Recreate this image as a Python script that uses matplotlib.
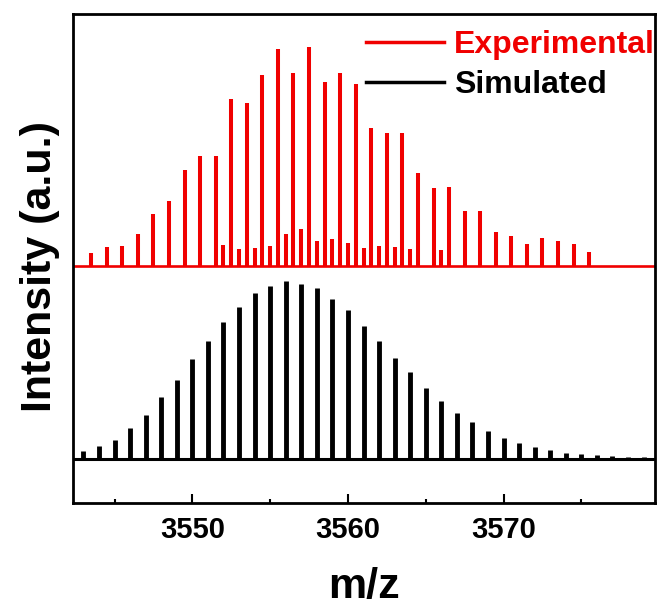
import matplotlib
matplotlib.use("Agg")
import matplotlib.pyplot as plt
import numpy as np

plt.rcParams['font.family'] = ['Liberation Sans', 'DejaVu Sans']
plt.rcParams['font.weight'] = 'bold'

# Simulated isotope pattern (m/z, relative intensity)
sim_mz = np.arange(3543, 3580)
sim_int = [7.7, 12.7, 19.3, 30.7, 44.3, 61.7, 79.3, 100, 118.3, 137.3, 152, 166,
           173.3, 177.7, 175.3, 170.7, 160.3, 149, 132.7, 117.7, 101, 86.7, 71.3,
           58.3, 46, 36.7, 27.7, 21.3, 16, 11.7, 8.7, 6.3, 5, 3.7, 2.7, 2.3, 2]

# Experimental pattern: main peaks
exp_mz = np.arange(3543.5, 3576.0, 1.0)
exp_int = [12.3, 19, 19.7, 31.7, 51.3, 65, 95.7, 110, 109.7, 166.7, 162.3, 190.7,
           216.7, 192.3, 218.3, 183.3, 193, 181.3, 137.3, 132.3, 132.3, 92.3, 77.3,
           78.3, 55, 55, 34, 30, 21.7, 27.3, 24.7, 21.7, 13.3]
# Experimental pattern: minor species
exp2_mz = [3552, 3553, 3554, 3555, 3556, 3557, 3558, 3559, 3560, 3561, 3562, 3563, 3564, 3566]
exp2_int = [20.7, 16.3, 18, 19.7, 31.3, 36.7, 25, 27, 23, 18, 19.7, 18.3, 16.3, 15.7]

exp_offset = 193.3
xticks = [3550, 3560, 3570]
minor_ticks = [3545, 3555, 3565, 3575]

fig = plt.figure(figsize=(6.59, 6.08), dpi=100)
ax = fig.add_axes([72.5 / 659, 1 - 503 / 608, (654.5 - 72.5) / 659, (503 - 14) / 608])

red = '#f00000'
ax.vlines(exp_mz, exp_offset, exp_offset + np.array(exp_int), color=red, lw=2.9)
ax.vlines(exp2_mz, exp_offset, exp_offset + np.array(exp2_int), color=red, lw=2.9)
ax.vlines(sim_mz, 0, np.array(sim_int), color='black', lw=3.5)

xl = (3542.3, 3579.7)
ax.plot(xl, [exp_offset, exp_offset], color=red, lw=1.9, label='Experimental')
ax.plot(xl, [0, 0], color='black', lw=2.2, label='Simulated')

ax.set_xlim(*xl)
ax.set_ylim(-44, 445)

ax.set_xticks(xticks)
ax.set_xticks(minor_ticks, minor=True)
ax.set_yticks([])
ax.tick_params(axis='x', which='major', direction='in', length=6.5, width=1.5,
               labelsize=21, pad=9)
ax.tick_params(axis='x', which='minor', direction='in', length=3, width=1.5)
for lab in ax.get_xticklabels():
    lab.set_fontweight('bold')
for s in ax.spines.values():
    s.set_linewidth(2.0)

ax.set_xlabel('m/z', fontsize=31, fontweight='bold', labelpad=17)
ax.set_ylabel('Intensity (a.u.)', fontsize=31, fontweight='bold')
ax.yaxis.set_label_coords(-0.021, 0.484)

leg = ax.legend(loc='upper right', bbox_to_anchor=(1.0, 0.967), frameon=False,
                handlelength=2.45, handletextpad=0.3,
                borderaxespad=0, borderpad=0, labelspacing=0.3,
                prop={'weight': 'bold', 'size': 23})
for t, c in zip(leg.get_texts(), [red, 'black']):
    t.set_color(c)
for h in leg.legend_handles:
    h.set_linewidth(2.5)

fig.savefig('out.png', dpi=100)
